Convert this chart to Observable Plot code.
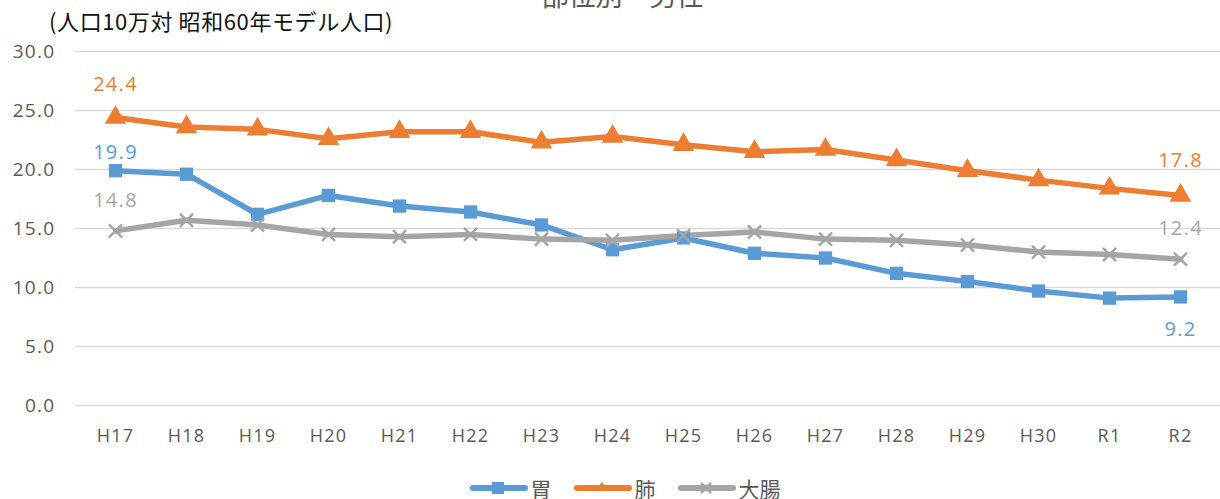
<!DOCTYPE html>
<html><head><meta charset="utf-8">
<script src="https://cdn.jsdelivr.net/npm/d3@7"></script>
<script src="https://cdn.jsdelivr.net/npm/@observablehq/plot@0.6"></script>
<style>
body{margin:0;background:#fff;font-family:"Noto Sans CJK JP","Noto Sans",sans-serif;}
#wrap{position:relative;width:1220px;height:499px;overflow:hidden;}
#title{position:absolute;left:0;width:1245px;text-align:center;top:-19px;line-height:27px;font-size:27px;color:#595959;}
#ylab{position:absolute;left:49px;top:8px;line-height:24px;font-size:22px;letter-spacing:0.6px;color:#111;}
#chart{position:absolute;left:0;top:0;}
#legend{position:absolute;top:476px;left:0;width:1250px;display:flex;justify-content:center;gap:22px;font-size:21px;line-height:24px;color:#595959;align-items:center;}
#legend .it{display:flex;align-items:center;gap:3px;}
</style></head>
<body><div id="wrap">
<div id="chart"></div>
<div id="title">部位別　男性</div>
<div id="ylab">(人口10万対 昭和60年モデル人口)</div>
<div id="legend"></div>
</div>
<script>
const years = ["H17","H18","H19","H20","H21","H22","H23","H24","H25","H26","H27","H28","H29","H30","R1","R2"];
const seriesNames = ["胃","肺","大腸"];
const stomach = [19.9,19.6,16.2,17.8,16.9,16.4,15.3,13.2,14.2,12.9,12.5,11.2,10.5,9.7,9.1,9.2];
const lung = [24.4,23.6,23.4,22.6,23.2,23.2,22.3,22.8,22.1,21.5,21.7,20.8,19.9,19.1,18.4,17.8];
const colon = [14.8,15.7,15.3,14.5,14.3,14.5,14.1,14.0,14.4,14.7,14.1,14.0,13.6,13.0,12.8,12.4];
const yTicks = [0,5,10,15,20,25,30];

const colors = {"胃":"#5B9BD5","肺":"#ED7D31","大腸":"#A5A5A5"};
const symbols = {"胃":"square","肺":"triangle","大腸":"times"};
const valuesBy = {"胃":stomach,"肺":lung,"大腸":colon};
const rows = seriesNames.flatMap(s => years.map((y,i)=>({series:s, year:y, value:valuesBy[s][i]})));

const first = i => rows.filter(r=>r.year===years[0] && r.series===seriesNames[i]);
const last = i => rows.filter(r=>r.year===years[years.length-1] && r.series===seriesNames[i]);
const lbl = (data, s, dy) => Plot.text(data, {x:"year", y:"value", text:d=>d.value.toFixed(1), fill:colors[s], fontSize:20, dy});

const marks = [
  Plot.ruleY(yTicks, {stroke:"#d9d9d9", strokeWidth:1.5}),
  Plot.axisY({ticks:yTicks, tickSize:0, tickPadding:20, tickFormat:d=>d.toFixed(1), fontSize:19, color:"#595959"}),
  Plot.axisX({tickSize:0, tickPadding:24, fontSize:18, color:"#595959"}),
];
for (const s of seriesNames) {
  const d = rows.filter(r=>r.series===s);
  marks.push(Plot.line(d, {x:"year", y:"value", stroke:colors[s], strokeWidth:5.5, strokeLinejoin:"round", strokeLinecap:"round"}));
}
for (const s of seriesNames) {
  const d = rows.filter(r=>r.series===s);
  if (s==="大腸") marks.push(Plot.dot(d, {x:"year", y:"value", symbol:"times", r:6, stroke:colors[s], strokeWidth:2.5}));
  else marks.push(Plot.dot(d, {x:"year", y:"value", symbol:symbols[s], r: s==="胃"?7.5:8, fill:colors[s], stroke:"none"}));
}
marks.push(lbl(first(0),"胃",-18), lbl(first(1),"肺",-33), lbl(first(2),"大腸",-30));
marks.push(lbl(last(0),"胃",33), lbl(last(1),"肺",-35), lbl(last(2),"大腸",-31));

const chart = Plot.plot({
  width:1220, height:470,
  marginTop:51, marginBottom:65, marginLeft:75, marginRight:0,
  style:{fontFamily:'"Open Sans","Noto Sans",sans-serif', background:"transparent", overflow:"visible", letterSpacing:"1.3px"},
  x:{type:"point", domain:years, padding:0.5, label:null},
  y:{domain:[0,30], label:null},
  marks
});
document.getElementById("chart").appendChild(chart);

const leg = document.getElementById("legend");
for (const s of seriesNames) {
  const it = document.createElement("div"); it.className="it";
  let mk;
  if (s==="胃") mk = `<rect x="22" y="4" width="12" height="12" fill="${colors[s]}"/>`;
  else if (s==="肺") mk = `<path d="M28,4 L35,13 L21,13 Z" fill="${colors[s]}"/>`;
  else mk = `<path d="M23,5 L33,15 M33,5 L23,15" stroke="${colors[s]}" stroke-width="2.5"/>`;
  it.innerHTML = `<svg width="58" height="20"><line x1="3" y1="10" x2="55" y2="10" stroke="${colors[s]}" stroke-width="6" stroke-linecap="round"/>${mk}</svg><span>${s}</span>`;
  leg.appendChild(it);
}
</script>
</body></html>
